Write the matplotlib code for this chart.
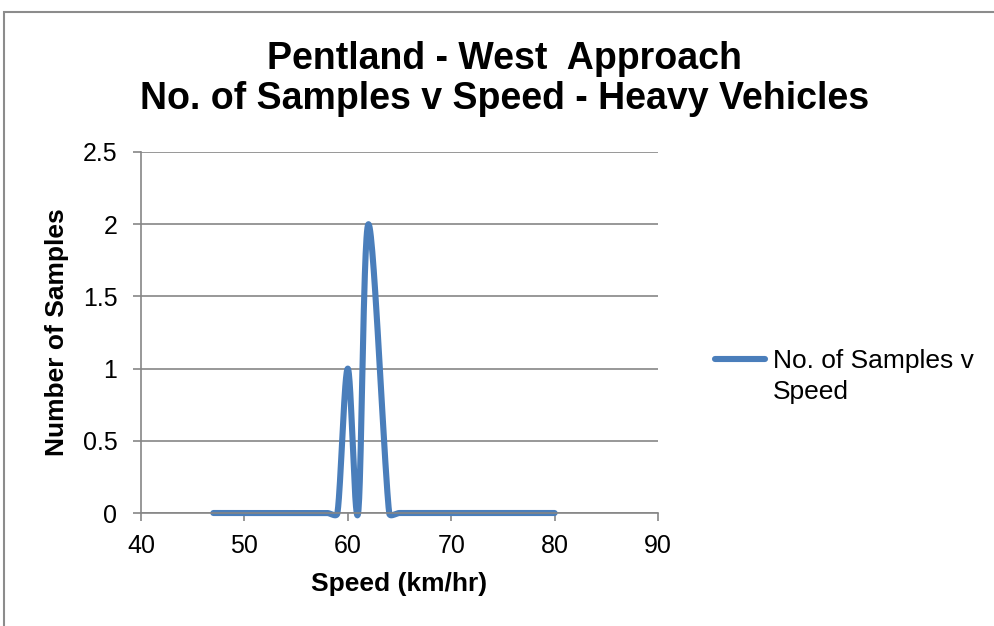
import numpy as np
import matplotlib
matplotlib.use("Agg")
import matplotlib.pyplot as plt
from matplotlib.lines import Line2D
from matplotlib.patches import Rectangle

plt.rcParams['font.family'] = ['Liberation Sans', 'DejaVu Sans']

# speed bins (km/hr) and heavy vehicle counts
speed = [47, 48, 49, 50, 51, 52, 53, 54, 55, 56, 57, 58, 59, 60, 61, 62,
         64, 65, 66, 67, 68, 69, 70, 71, 72, 73, 74, 75, 76, 77, 78, 79, 80]
samples = [0, 0, 0, 0, 0, 0, 0, 0, 0, 0, 0, 0, 0, 1, 0, 2,
           0, 0, 0, 0, 0, 0, 0, 0, 0, 0, 0, 0, 0, 0, 0, 0, 0]

title = "Pentland - West  Approach\nNo. of Samples v Speed - Heavy Vehicles"
series_name = "No. of Samples v\nSpeed"
line_color = '#4a7ebb'
grid_color = '#868686'


def smooth_curve(pts, steps=30):
    # bezier smoothing in display space, control arms capped at half the segment
    out = []
    n = len(pts)
    for i in range(n - 1):
        p0 = pts[max(i - 1, 0)]
        p1 = pts[i]
        p2 = pts[i + 1]
        p3 = pts[min(i + 2, n - 1)]
        seg = np.hypot(*(p2 - p1))
        a = (p2 - p0) / 6.0
        b = (p3 - p1) / 6.0
        la, lb = np.hypot(*a), np.hypot(*b)
        if la > 0.5 * seg:
            a = a * 0.5 * seg / la
        if lb > 0.5 * seg:
            b = b * 0.5 * seg / lb
        c1 = p1 + a
        c2 = p2 - b
        t = np.linspace(0, 1, steps)[:, None]
        curve = ((1 - t) ** 3 * p1 + 3 * (1 - t) ** 2 * t * c1
                 + 3 * (1 - t) * t ** 2 * c2 + t ** 3 * p2)
        out.append(curve if i == 0 else curve[1:])
    return np.vstack(out)


fig = plt.figure(figsize=(9.95, 6.26), dpi=100)
ax = fig.add_axes([0.1417, 0.1805, 0.5196, 0.5767])

ax.set_xlim(40, 90)
ax.set_ylim(0, 2.5)
ax.set_xticks(range(40, 91, 10))
ax.set_yticks([0, 0.5, 1, 1.5, 2, 2.5])
ax.set_yticklabels(['0', '0.5', '1', '1.5', '2', '2.5'])

ax.grid(axis='y', color=grid_color, linewidth=1.2)
ax.set_axisbelow(True)
for side in ['top', 'right']:
    ax.spines[side].set_visible(False)
for side in ['left', 'bottom']:
    ax.spines[side].set_color(grid_color)
    ax.spines[side].set_linewidth(1.2)
ax.tick_params(axis='both', colors=grid_color, labelcolor='black',
               labelsize=18, length=6, width=1.2, direction='out')
ax.tick_params(axis='y', pad=11)
ax.tick_params(axis='x', pad=9)

# smooth the series in pixel space so the curve shape follows the axes aspect
disp = ax.transData.transform(np.column_stack([speed, samples]))
curve = ax.transData.inverted().transform(smooth_curve(disp))
ax.plot(curve[:, 0], curve[:, 1], color=line_color, linewidth=4.4,
        solid_capstyle='round', clip_on=False)

ax.set_xlabel("Speed (km/hr)", fontsize=19, fontweight='bold', labelpad=10)
ax.set_ylabel("Number of Samples", fontsize=19, fontweight='bold', labelpad=10)

fig.text(0.5075, 0.8745, title, ha='center', va='center', fontsize=27,
         fontweight='bold', linespacing=1.14)

# legend entry
fig.add_artist(Line2D([0.7186, 0.7688], [0.4265, 0.4265], color=line_color,
                      linewidth=4.4, solid_capstyle='round'))
fig.text(0.777, 0.3634, series_name, ha='left', va='baseline', fontsize=19,
         linespacing=1.36)

# chart area border
fig.add_artist(Rectangle((0.004, -0.1), 1.2, 1.1 - 0.019, transform=fig.transFigure,
                         fill=False, edgecolor='#8c8c8c', linewidth=1.5))

fig.savefig('out.png', dpi=100)
